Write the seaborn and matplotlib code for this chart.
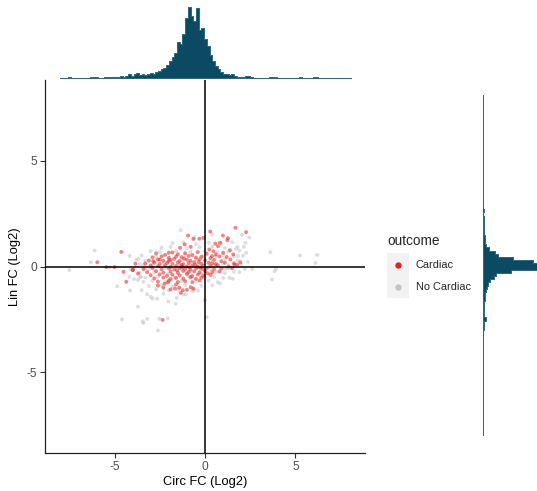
import matplotlib
matplotlib.use("Agg")
import numpy as np
import pandas as pd
import matplotlib.pyplot as plt
import seaborn as sns
from matplotlib.lines import Line2D
from matplotlib.patches import Rectangle

# ---------------- data ----------------
# (Circ FC, Lin FC) in log2 units
cardiac_pts = [
    (-5.95, 0.20), (-5.45, -0.03), (-5.00, -0.03), (-4.62, 0.69), (-4.50, -0.25),
    (-3.98, -0.17), (-3.85, 0.13), (-3.70, -0.33), (-4.35, -0.72), (-4.00, -0.16),
    (-2.34, -2.52), (-0.94, 1.46), (-0.31, 1.31), (0.29, 1.65), (0.99, 1.46),
    (1.27, 1.34), (1.68, 1.83), (2.27, 1.62), (1.95, 0.20), (1.63, 0.08),
    (1.78, 0.08), (-0.64, 1.30), (-0.09, 1.35), (0.57, 1.08), (0.72, 0.96),
    (0.83, 1.12), (0.24, 0.80), (0.46, 0.72), (0.39, 0.49), (1.38, 0.77),
    (1.56, 0.57), (-1.38, 0.88), (-1.12, 1.04), (-0.79, 0.93), (-2.00, 0.65),
    (-2.49, 0.33), (-2.86, 0.25), (1.23, 1.24),
    (-2.30, -1.00), (-1.90, -1.08), (-1.66, -1.04), (-1.42, -1.00), (-1.23, -1.12),
    (-1.60, -0.85), (-1.34, -1.24), (-0.79, -0.98), (-0.64, -1.04), (-2.23, -0.82),
    (-1.00, -1.10), (-2.60, -0.90), (-2.05, -0.75),
    (-2.7, 0.62), (-2.2, 0.55), (-1.8, 0.66), (-1.5, 0.58), (-1.1, 0.63), (-0.7, 0.54),
    (-0.4, 0.68), (0.1, 0.60), (0.6, 0.57), (1.0, 0.65),
    (-2.9, 0.43), (-2.4, 0.48), (-2.0, 0.41), (-1.6, 0.47), (-1.3, 0.44), (-0.9, 0.50),
    (-0.5, 0.42), (-0.2, 0.46), (0.3, 0.40), (0.8, 0.48), (1.2, 0.45),
    (-3.1, 0.28), (-2.6, 0.33), (-2.3, 0.27), (-1.9, 0.31), (-1.7, 0.36), (-1.4, 0.26),
    (-1.0, 0.32), (-0.8, 0.27), (-0.3, 0.34), (0.0, 0.29), (0.5, 0.31), (0.9, 0.25),
    (1.4, 0.33),
    (-3.3, 0.14), (-2.8, 0.18), (-2.5, 0.12), (-2.1, 0.17), (-1.8, 0.13), (-1.5, 0.19),
    (-1.2, 0.11), (-0.9, 0.16), (-0.6, 0.20), (-0.2, 0.13), (0.2, 0.17), (0.6, 0.12),
    (1.1, 0.18), (1.6, 0.15),
    (-3.0, 0.04), (-2.6, 0.01), (-2.2, 0.06), (-1.9, -0.02), (-1.6, 0.03), (-1.3, 0.07),
    (-1.0, 0.00), (-0.7, 0.05), (-0.4, -0.01), (-0.1, 0.04), (0.3, 0.02), (0.7, 0.06),
    (1.3, 0.01),
    (-3.4, -0.12), (-2.9, -0.08), (-2.4, -0.13), (-2.0, -0.09), (-1.7, -0.14),
    (-1.4, -0.07), (-1.1, -0.11), (-0.8, -0.15), (-0.5, -0.09), (-0.15, -0.12),
    (0.1, -0.07), (0.5, -0.13), (0.9, -0.10), (1.5, -0.08),
    (-3.2, -0.27), (-2.7, -0.22), (-2.3, -0.29), (-1.9, -0.24), (-1.5, -0.30),
    (-1.2, -0.21), (-0.9, -0.26), (-0.6, -0.23), (-0.3, -0.28), (0.0, -0.22),
    (0.4, -0.27), (0.8, -0.24),
    (-3.0, -0.41), (-2.5, -0.37), (-2.1, -0.44), (-1.8, -0.39), (-1.4, -0.42),
    (-1.0, -0.36), (-0.7, -0.45), (-0.4, -0.38), (-0.1, -0.43), (0.3, -0.40),
    (-2.8, -0.56), (-2.3, -0.52), (-1.9, -0.59), (-1.6, -0.54), (-1.2, -0.57),
    (-0.8, -0.51), (-0.5, -0.58), (-0.2, -0.53),
    (-2.6, -0.71), (-2.0, -0.67), (-1.5, -0.73), (-1.1, -0.69), (-0.7, -0.74),
    (-0.3, -0.66),
    (-1.25, -0.02), (-0.55, 0.08), (-0.85, -0.05), (-1.55, -0.18), (-0.35, 0.22),
    (-2.0, 0.24), (-1.15, 0.38), (0.15, -0.32), (-0.25, -0.05), (0.4, 0.15),
]

no_cardiac_pts = [
    (-7.50, -0.17), (-6.30, 0.20), (-6.10, 0.75), (-5.25, -0.03), (-4.16, 0.50),
    (-4.10, -0.14), (-3.68, 0.36), (-3.54, -0.49), (-3.40, 0.07), (-3.30, -0.10),
    (-4.85, -0.93), (-4.14, -1.13), (-4.18, -0.49), (-3.70, -1.90), (-4.59, -2.50),
    (-3.44, -2.59), (-3.40, -2.66), (-3.19, -2.47), (-2.52, -2.47), (-2.06, -2.45),
    (-2.60, -3.02), (-3.00, -1.43), (-2.90, -1.51), (-2.64, -1.52), (-2.03, -1.65),
    (-1.56, -1.48), (-1.62, -1.76), (-1.05, -1.32), (-0.70, -1.16), (-0.39, -1.13),
    (0.09, -2.39), (0.00, -1.59), (-1.34, 1.71), (-0.59, 1.38), (0.40, 1.50),
    (2.04, 1.50), (2.45, 1.37), (2.23, 1.12), (2.15, 0.93), (2.27, 0.65),
    (1.71, 0.83), (1.82, 0.49), (2.36, 0.22), (2.61, -0.11), (3.61, 0.68),
    (3.92, -0.11), (3.85, -0.22), (3.70, -0.61), (5.25, 0.52), (6.20, 0.55),
    (6.10, 0.17), (0.83, -0.80), (1.35, -0.53), (1.60, -0.25), (1.53, -0.58),
    (1.12, -0.11), (1.33, -0.08), (-3.92, -0.60), (-3.70, -0.63), (-3.59, -0.50),
    (-1.8, 1.10), (-1.2, 1.14), (-0.5, 1.06), (0.2, 1.12), (0.9, 1.08), (1.5, 1.15),
    (-2.4, 0.88), (-1.9, 0.93), (-1.0, 0.86), (-0.3, 0.91), (0.4, 0.94), (1.1, 0.87),
    (1.8, 0.92),
    (-3.0, 0.72), (-2.5, 0.68), (-1.6, 0.74), (-0.8, 0.69), (0.0, 0.73), (0.7, 0.67),
    (1.3, 0.71), (1.9, 0.75),
    (-3.5, 0.52), (-2.7, 0.47), (-1.1, 0.53), (-0.1, 0.49), (0.6, 0.46), (1.0, 0.54),
    (1.6, 0.48), (2.1, 0.51),
    (-3.8, 0.31), (-3.3, 0.27), (-2.0, 0.33), (-1.2, 0.29), (-0.5, 0.32), (0.3, 0.26),
    (1.1, 0.34), (1.8, 0.28),
    (-3.6, 0.12), (-2.9, 0.08), (-2.3, 0.13), (-1.4, 0.09), (-0.4, 0.11), (0.5, 0.07),
    (1.0, 0.13), (2.0, 0.10),
    (-3.9, -0.09), (-3.1, -0.13), (-2.2, -0.08), (-1.3, -0.12), (-0.3, -0.10),
    (0.3, -0.14), (1.2, -0.07), (2.2, -0.11),
    (-3.6, -0.31), (-2.8, -0.27), (-2.0, -0.33), (-1.0, -0.29), (-0.2, -0.32),
    (0.6, -0.28), (1.1, -0.31), (1.9, -0.26),
    (-3.3, -0.52), (-2.6, -0.48), (-1.7, -0.53), (-0.9, -0.47), (0.0, -0.51),
    (0.5, -0.49), (1.0, -0.54),
    (-3.4, -0.72), (-2.9, -0.68), (-2.2, -0.73), (-1.3, -0.69), (-0.5, -0.71),
    (0.2, -0.67), (0.7, -0.74),
    (-3.1, -0.92), (-2.4, -0.88), (-1.8, -0.93), (-1.1, -0.87), (-0.2, -0.91),
    (0.4, -0.89),
    (-3.5, -1.12), (-2.7, -1.08), (-2.0, -1.13), (-1.5, -1.09), (-0.6, -1.11),
    (-3.2, -1.31), (-2.3, -1.28), (-1.2, -1.33),
]

# marginal histograms: bin edges start/width and counts per bin
circ_bin_start, circ_bin_width = -8.0, 0.15
circ_counts = [
    0, 0, 0, 1, 0, 0, 0, 0, 0, 0, 0, 1, 1, 1, 0, 0,
    2, 1, 2, 2, 1, 2, 3, 2, 3,
    6, 3, 5, 7, 4, 6, 4, 5, 7, 6,
    9, 10, 12, 14, 18, 24, 30, 35, 50, 48,
    62, 85, 100, 88, 80, 98, 68, 70, 55, 45,
    33, 24, 17, 12, 8, 6, 5, 4, 5, 3,
    2, 1, 1, 3, 3, 1,
    0, 0, 0, 0, 0, 0, 1, 1, 1, 0, 0, 0, 0, 0, 0, 0, 0,
    1, 0, 0, 0, 0, 1, 1,
    0, 0, 0, 0, 0, 0, 0, 0, 0, 0, 0, 0,
]
lin_bin_start, lin_bin_width = -7.95, 0.15
lin_counts = [0] * 33 + [
    1, 1, 1, 3, 1, 1, 1, 1, 1, 2, 2, 2, 3, 4, 5, 7, 11, 13, 28, 70,
    75, 50, 30, 15, 12, 6, 3, 2, 2, 2, 1, 1, 1, 1, 1, 1, 0, 1,
] + [0] * 36

x_ticks = [-5, 0, 5]
y_ticks = [-5, 0, 5]
outcome_levels = ["Cardiac", "No Cardiac"]
outcome_colors = {"Cardiac": "#E8201F", "No Cardiac": "#C4C4C4"}
hist_color = "#0B4A62"
hist_edge = "#2A6A80"

# ---------------- figure ----------------
sns.set_theme(style="white")
plt.rcParams["font.family"] = ["Liberation Sans", "DejaVu Sans"]

W, H = 537, 491
fig = plt.figure(figsize=(W / 100, H / 100), dpi=100)


def fx(px):
    return px / W


def fy(py):
    return 1 - py / H


df = pd.DataFrame(
    [(x, y, "No Cardiac") for x, y in no_cardiac_pts]
    + [(x, y, "Cardiac") for x, y in cardiac_pts],
    columns=["circ", "lin", "outcome"],
)

# main scatter panel
ax = fig.add_axes([fx(45), fy(453), fx(365) - fx(45), fy(80) - fy(453)])
sns.scatterplot(
    data=df, x="circ", y="lin", hue="outcome", palette=outcome_colors,
    hue_order=outcome_levels[::-1], s=8, alpha=0.55, linewidth=0,
    legend=False, ax=ax,
)
ax.axhline(0, color="black", lw=1.1, zorder=5)
ax.axvline(0, color="black", lw=1.1, zorder=5)
ax.set_xlim(-8.84, 8.84)
ax.set_ylim(-8.8, 8.8)
ax.set_xticks(x_ticks)
ax.set_yticks(y_ticks)
ax.set_xticklabels([str(t) for t in x_ticks])
ax.set_yticklabels([str(t) for t in y_ticks])
for side in ("top", "right"):
    ax.spines[side].set_visible(False)
for side in ("left", "bottom"):
    ax.spines[side].set_color("#222222")
    ax.spines[side].set_linewidth(0.9)
ax.tick_params(axis="both", length=3.5, width=0.8, color="#333333",
               labelcolor="#4D4D4D", labelsize=8.6, pad=2.5,
               bottom=True, left=True)
ax.set_xlabel("Circ FC (Log2)", fontsize=9.3, color="black", labelpad=2)
ax.set_ylabel("Lin FC (Log2)", fontsize=9.3, color="black", labelpad=4)
ax.grid(False)

# top marginal histogram (Circ FC)
circ_edges = circ_bin_start + circ_bin_width * np.arange(len(circ_counts) + 1)
circ_df = pd.DataFrame({
    "circ": (circ_edges[:-1] + circ_edges[1:]) / 2,
    "count": np.asarray(circ_counts, dtype=float),
})
ax_top = fig.add_axes([fx(45), fy(79), fx(365) - fx(45), fy(7) - fy(79)])
sns.histplot(data=circ_df, x="circ", weights="count", bins=list(circ_edges),
             element="step", fill=True, ax=ax_top, color=hist_color,
             edgecolor=hist_edge, linewidth=0.7, alpha=1)
ax_top.set_xlim(ax.get_xlim())
ax_top.set_ylim(-0.015 * max(circ_counts), max(circ_counts))
ax_top.axis("off")

# right marginal histogram (Lin FC)
lin_edges = lin_bin_start + lin_bin_width * np.arange(len(lin_counts) + 1)
lin_df = pd.DataFrame({
    "lin": (lin_edges[:-1] + lin_edges[1:]) / 2,
    "count": np.asarray(lin_counts, dtype=float),
})
ax_right = fig.add_axes([fx(482), fy(453), fx(563) - fx(482), fy(80) - fy(453)])
sns.histplot(data=lin_df, y="lin", weights="count", bins=list(lin_edges),
             element="step", fill=True, ax=ax_right, color=hist_color,
             edgecolor=hist_edge, linewidth=0.7, alpha=1)
ax_right.set_ylim(ax.get_ylim())
ax_right.set_xlim(-1.0, 80)
ax_right.axis("off")

# legend
fig.text(fx(387), fy(241), "outcome", fontsize=9.8, ha="left", va="center")
fig.patches.append(Rectangle((fx(387), fy(298)), fx(409) - fx(387),
                             fy(253) - fy(298), transform=fig.transFigure,
                             facecolor="#F2F2F2", edgecolor="none"))
for label, py in zip(outcome_levels, (265, 287)):
    fig.add_artist(Line2D([fx(398)], [fy(py)], marker="o", markersize=4.6,
                          color=outcome_colors[label], markeredgewidth=0,
                          linestyle="none", transform=fig.transFigure))
    fig.text(fx(416), fy(py), label, fontsize=7.9, ha="left", va="center")

fig.savefig("out.png", dpi=100)
